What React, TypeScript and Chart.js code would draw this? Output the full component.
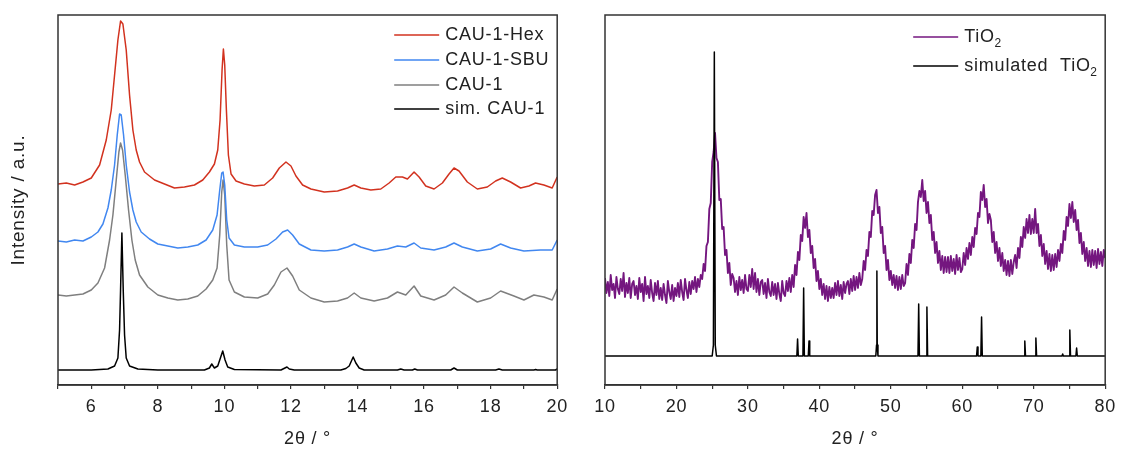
import React, { useEffect, useRef } from 'react';
import { Chart, registerables } from 'chart.js';

Chart.register(...registerables);

const FONT = "'Liberation Sans', Arial, sans-serif";
const TEXT_COLOR = '#222';
const LETTER_SPACING = '0.8px';
const FONT_SIZE = 18;

// ---------- Left panel: CAU-1 patterns (2θ in degrees, intensity in a.u.) ----------
const HEX_X = [5.0, 5.25, 5.5, 5.75, 6.0, 6.25, 6.45, 6.6, 6.7, 6.8, 6.88, 6.95, 7.05, 7.15, 7.25, 7.35, 7.45, 7.6, 7.9, 8.2, 8.5, 8.8, 9.1, 9.35, 9.55, 9.7, 9.8, 9.87, 9.93, 9.97, 10.01, 10.06, 10.12, 10.2, 10.35, 10.6, 10.9, 11.2, 11.45, 11.65, 11.85, 12.0, 12.15, 12.35, 12.6, 13.0, 13.4, 13.7, 13.9, 14.1, 14.4, 14.7, 14.95, 15.15, 15.35, 15.5, 15.7, 15.85, 16.05, 16.3, 16.55, 16.75, 16.9, 17.05, 17.3, 17.6, 17.9, 18.15, 18.35, 18.6, 18.9, 19.15, 19.35, 19.6, 19.85, 20.0];
const HEX_Y = [201, 202, 200, 203, 207, 220, 245, 275, 310, 345, 364, 361, 335, 290, 255, 235, 223, 213, 205, 201, 197, 198, 200, 205, 213, 221, 235, 265, 315, 336, 320, 275, 230, 211, 204, 201, 199, 200, 207, 217, 223, 219, 209, 200, 196, 193, 194, 197, 200, 197, 195, 196, 202, 208, 208, 206, 213, 208, 199, 196, 202, 211, 217, 214, 203, 196, 198, 204, 207, 203, 197, 199, 202, 200, 197, 208];

const SBU_X = [5.0, 5.25, 5.5, 5.75, 6.0, 6.2, 6.35, 6.5, 6.6, 6.7, 6.78, 6.85, 6.9, 6.97, 7.05, 7.15, 7.25, 7.35, 7.5, 7.75, 8.0, 8.3, 8.6, 8.9, 9.2, 9.45, 9.65, 9.78, 9.86, 9.92, 9.96, 10.01, 10.07, 10.14, 10.3, 10.6, 11.0, 11.3, 11.55, 11.75, 11.9, 12.05, 12.25, 12.6, 13.0, 13.4, 13.7, 13.9, 14.1, 14.5, 14.9, 15.2, 15.45, 15.7, 15.9, 16.3, 16.65, 16.9, 17.15, 17.6, 18.0, 18.3, 18.6, 19.0, 19.5, 19.85, 20.0];
const SBU_Y = [144, 143, 145, 144, 148, 153, 161, 177, 195, 220, 250, 271, 270, 250, 220, 193, 175, 163, 153, 146, 141, 139, 137, 138, 140, 145, 155, 170, 195, 212, 213, 200, 165, 147, 140, 138, 138, 140, 146, 153, 155, 150, 141, 135, 134, 135, 138, 141, 138, 134, 136, 139, 138, 142, 137, 135, 138, 142, 138, 134, 136, 141, 137, 134, 135, 135, 145];

const CAU1_X = [5.0, 5.25, 5.5, 5.75, 6.0, 6.2, 6.4, 6.55, 6.65, 6.75, 6.83, 6.88, 6.94, 7.02, 7.12, 7.22, 7.32, 7.45, 7.7, 8.0, 8.3, 8.6, 8.9, 9.2, 9.45, 9.65, 9.78, 9.86, 9.92, 9.96, 10.01, 10.07, 10.14, 10.3, 10.6, 11.0, 11.3, 11.5, 11.7, 11.88, 12.05, 12.25, 12.6, 13.0, 13.4, 13.7, 13.9, 14.1, 14.5, 14.9, 15.2, 15.45, 15.7, 15.9, 16.3, 16.65, 16.9, 17.15, 17.6, 18.0, 18.3, 18.7, 19.0, 19.3, 19.6, 19.85, 20.0];
const CAU1_Y = [90, 89, 90, 91, 95, 102, 117, 145, 170, 205, 233, 242, 235, 210, 175, 145, 125, 110, 98, 90, 87, 85, 86, 89, 96, 105, 117, 150, 193, 205, 190, 140, 105, 93, 88, 87, 91, 100, 113, 117, 109, 95, 87, 83, 84, 87, 92, 87, 84, 87, 93, 90, 99, 89, 85, 90, 98, 92, 83, 87, 94, 89, 85, 90, 88, 85, 96];

const SIM_X = [5.0, 6.0, 6.5, 6.7, 6.8, 6.85, 6.88, 6.92, 6.96, 7.0, 7.05, 7.15, 7.4, 8.0, 9.4, 9.55, 9.62, 9.7, 9.8, 9.88, 9.95, 10.02, 10.1, 10.3, 11.7, 11.82, 11.88, 11.95, 12.1, 13.5, 13.65, 13.75, 13.87, 13.95, 14.05, 14.2, 15.2, 15.3, 15.4, 15.65, 15.72, 15.8, 16.8, 16.9, 17.0, 18.15, 18.25, 18.35, 19.3, 19.35, 19.4, 19.95, 20.0];
const SIM_Y = [15, 15, 16, 19, 27, 55, 95, 152, 95, 50, 27, 19, 16, 15, 15, 17, 21, 17, 19, 27, 34, 25, 18, 15.5, 15, 17, 18, 16, 15, 15, 16.5, 19, 28, 22, 17, 15, 15, 16, 15, 15, 16, 15, 15, 17, 15, 15, 16, 15, 15, 15.5, 15, 15, 16];

const LEFT_LABELS = ['CAU-1-Hex', 'CAU-1-SBU', 'CAU-1', 'sim. CAU-1'];
const LEFT_COLORS = ['#d2321f', '#4187f0', '#7f7f7f', '#000000'];
const LEFT_MAJOR_TICKS = [6, 8, 10, 12, 14, 16, 18, 20];

// ---------- Right panel: TiO2 ----------
const TIO2_START = 10;
const TIO2_STEP = 0.2;
const TIO2_Y = [
  107, 92, 103, 89, 110, 95, 101, 87, 108, 96,
  91, 106, 94, 112, 88, 102, 92, 107, 87, 101,
  104, 90, 99, 86, 107, 93, 101, 84, 108, 91,
  99, 87, 105, 92, 84, 102, 90, 104, 86, 97,
  85, 101, 90, 82, 104, 93, 86, 100, 84, 97,
  89, 102, 88, 105, 93, 85, 106, 95, 87, 103,
  91, 104, 96, 108, 93, 106, 98, 110, 106, 121,
  114, 139, 143, 176, 182, 223, 233, 252, 227, 223,
  185, 186, 156, 158, 130, 135, 112, 122, 100, 111,
  107, 93, 104, 90, 108, 95, 105, 92, 110, 96,
  94, 110, 98, 116, 96, 112, 93, 106, 90, 103,
  105, 91, 102, 87, 106, 93, 89, 103, 90, 101,
  86, 102, 91, 84, 104, 92, 89, 104, 94, 107,
  93, 110, 98, 120, 110, 133, 125, 150, 144, 168,
  157, 172, 148, 155, 132, 139, 117, 126, 104, 114,
  96, 106, 90, 101, 86, 99, 84, 98, 87, 97,
  87, 102, 90, 104, 89, 100, 86, 103, 92, 101,
  104, 91, 106, 94, 109, 95, 108, 97, 112, 100,
  106, 124, 115, 135, 129, 153, 148, 174, 170, 190,
  195, 172, 178, 152, 158, 132, 139, 115, 125, 105,
  114, 100, 110, 97, 109, 95, 108, 96, 110, 99,
  102, 121, 110, 131, 122, 145, 137, 161, 155, 183,
  194, 188, 205, 184, 194, 172, 183, 162, 170, 145,
  153, 132, 143, 122, 134, 115, 129, 112, 128, 113,
  128, 112, 129, 114, 126, 111, 130, 115, 127, 113,
  116, 132, 120, 137, 126, 142, 130, 148, 138, 157,
  151, 172, 168, 193, 185, 200, 178, 186, 162, 171,
  165, 143, 153, 132, 143, 124, 137, 119, 132, 114,
  125, 110, 124, 109, 125, 111, 123, 130, 117, 137,
  127, 148, 138, 158, 147, 166, 152, 170, 151, 166,
  152, 176, 152, 161, 139, 150, 129, 141, 121, 134,
  116, 131, 114, 130, 115, 131, 118, 135, 124, 141,
  132, 154, 145, 168, 159, 181, 167, 183, 163, 175,
  155, 165, 142, 152, 131, 143, 124, 137, 119, 134,
  118, 135, 120, 134, 117, 136, 121, 133, 119, 135, 127,
];

const SIMTIO2_X = [10, 25.0, 25.17, 25.3, 25.43, 25.6, 36.85, 36.95, 37.05, 37.7, 37.8, 37.9, 38.45, 38.55, 38.65, 47.9, 48.0, 48.05, 48.1, 48.2, 53.8, 53.9, 54.0, 54.95, 55.05, 55.15, 62.0, 62.1, 62.2, 62.6, 62.7, 62.8, 68.65, 68.75, 68.85, 70.2, 70.3, 70.4, 73.95, 74.05, 74.15, 74.95, 75.05, 75.15, 75.9, 76.0, 76.1, 80];
const SIMTIO2_Y = [29, 29, 40, 333, 40, 29, 29, 46, 29, 29, 97, 29, 29, 44, 29, 29, 40, 114, 40, 29, 29, 81, 29, 29, 78, 29, 29, 38, 29, 29, 68, 29, 29, 44, 29, 29, 47, 29, 29, 31, 29, 29, 55, 29, 29, 37, 29, 29];

const RIGHT_LABELS = [{ main: 'TiO', sub: '2' }, { main: 'simulated  TiO', sub: '2' }];
const RIGHT_COLORS = ['#74167f', '#000000'];
const RIGHT_MAJOR_TICKS = [10, 20, 30, 40, 50, 60, 70, 80];

// ---------- helpers ----------
function pts(xs: number[], ys: number[]) {
  return xs.map((x, i) => ({ x, y: ys[i] }));
}
function gridPts(start: number, step: number, ys: number[]) {
  return ys.map((y, i) => ({ x: Math.round((start + i * step) * 100) / 100, y }));
}

const spacingPlugin = {
  id: 'spacing',
  beforeUpdate(chart: any) { chart.ctx.letterSpacing = LETTER_SPACING; },
  beforeLayout(chart: any) { chart.ctx.letterSpacing = LETTER_SPACING; },
  beforeDraw(chart: any) { chart.ctx.letterSpacing = LETTER_SPACING; },
};

const framePlugin = {
  id: 'frame',
  afterDraw(chart: any) {
    const { ctx, chartArea: a } = chart;
    ctx.save();
    ctx.strokeStyle = '#333';
    ctx.lineWidth = 1.5;
    ctx.strokeRect(a.left, a.top, a.right - a.left, a.bottom - a.top);
    ctx.restore();
  },
};

function legendPlugin(items: { main: string; sub?: string }[], colors: string[], fromRight: number, rowYs: number[]) {
  return {
    id: 'insideLegend',
    afterDraw(chart: any) {
      const { ctx, chartArea } = chart;
      const x0 = chartArea.right - fromRight;
      ctx.save();
      ctx.letterSpacing = LETTER_SPACING;
      items.forEach((it, i) => {
        const y = rowYs[i];
        ctx.strokeStyle = colors[i];
        ctx.lineWidth = 1.5;
        ctx.beginPath();
        ctx.moveTo(x0, y);
        ctx.lineTo(x0 + 45, y);
        ctx.stroke();
        ctx.fillStyle = TEXT_COLOR;
        ctx.textBaseline = 'middle';
        ctx.textAlign = 'left';
        ctx.font = `${FONT_SIZE}px ${FONT}`;
        const tx = x0 + 51;
        ctx.fillText(it.main, tx, y);
        if (it.sub) {
          const w = ctx.measureText(it.main).width;
          ctx.font = `12px ${FONT}`;
          ctx.fillText(it.sub, tx + w - 0.5, y + 7);
        }
      });
      ctx.restore();
    },
  };
}

function xScale(min: number, max: number, step: number, major: number[]) {
  return {
    type: 'linear',
    min,
    max,
    ticks: {
      stepSize: step,
      autoSkip: false,
      maxRotation: 0,
      padding: 7,
      color: TEXT_COLOR,
      font: { family: FONT, size: FONT_SIZE },
      callback: (v: any) => (major.includes(Number(v)) ? String(v) : ''),
    },
    grid: { display: true, drawOnChartArea: false, drawTicks: true, tickLength: 4, color: '#333', lineWidth: 1.2 },
    border: { display: true, color: '#333', width: 1.5 },
    title: {
      display: true,
      text: '2\u03b8 / \u00b0',
      color: TEXT_COLOR,
      font: { family: FONT, size: FONT_SIZE },
      padding: { top: 0, bottom: 3 },
    },
    afterFit: (s: any) => { s.height = 68; },
  };
}

function lineDs(label: string, data: any[], color: string, width: number) {
  return {
    label,
    data,
    borderColor: color,
    backgroundColor: color,
    borderWidth: width,
    pointRadius: 0,
    fill: false,
    tension: 0,
    borderJoinStyle: 'round',
  };
}

const baseOptions = {
  animation: false,
  responsive: false,
  maintainAspectRatio: false,
  devicePixelRatio: 1,
  events: [],
  plugins: { legend: { display: false }, tooltip: { enabled: false } },
};

export default function App() {
  const leftRef = useRef<HTMLCanvasElement>(null);
  const rightRef = useRef<HTMLCanvasElement>(null);

  useEffect(() => {
    const left = new Chart(leftRef.current as HTMLCanvasElement, {
      type: 'line',
      data: {
        datasets: [
          lineDs(LEFT_LABELS[0], pts(HEX_X, HEX_Y), LEFT_COLORS[0], 1.5),
          lineDs(LEFT_LABELS[1], pts(SBU_X, SBU_Y), LEFT_COLORS[1], 1.5),
          lineDs(LEFT_LABELS[2], pts(CAU1_X, CAU1_Y), LEFT_COLORS[2], 1.5),
          lineDs(LEFT_LABELS[3], pts(SIM_X, SIM_Y), LEFT_COLORS[3], 1.5),
        ] as any,
      },
      options: {
        ...baseOptions,
        layout: { padding: { left: 0, right: 14, top: 15, bottom: 0 } },
        scales: {
          x: xScale(5, 20, 1, LEFT_MAJOR_TICKS),
          y: {
            type: 'linear',
            min: 0,
            max: 370,
            ticks: { display: false },
            grid: { display: false },
            border: { display: false },
            title: {
              display: true,
              text: 'Intensity / a.u.',
              color: TEXT_COLOR,
              font: { family: FONT, size: 19 },
              padding: { top: 7, bottom: 0 },
            },
            afterFit: (s: any) => { s.width = 58; },
          },
        },
      } as any,
      plugins: [spacingPlugin, framePlugin, legendPlugin(LEFT_LABELS.map((m) => ({ main: m })), LEFT_COLORS, 163, [35, 60, 85, 109])] as any,
    });

    const right = new Chart(rightRef.current as HTMLCanvasElement, {
      type: 'line',
      data: {
        datasets: [
          lineDs('simulated TiO2', pts(SIMTIO2_X, SIMTIO2_Y), RIGHT_COLORS[1], 1.5),
          lineDs('TiO2', gridPts(TIO2_START, TIO2_STEP, TIO2_Y), RIGHT_COLORS[0], 1.9),
        ] as any,
      },
      options: {
        ...baseOptions,
        layout: { padding: { left: 30, right: 16, top: 15, bottom: 0 } },
        scales: {
          x: xScale(10, 80, 5, RIGHT_MAJOR_TICKS),
          y: { type: 'linear', min: 0, max: 370, display: false },
        },
      } as any,
      plugins: [spacingPlugin, framePlugin, legendPlugin(RIGHT_LABELS, RIGHT_COLORS, 192, [37, 66])] as any,
    });

    return () => {
      left.destroy();
      right.destroy();
    };
  }, []);

  return (
    <div style={{ position: 'absolute', left: 0, top: 0, width: 1123, height: 453, background: '#fff' }}>
      <canvas ref={leftRef} width={575} height={453} style={{ position: 'absolute', left: 0, top: 0 }} />
      <canvas ref={rightRef} width={548} height={453} style={{ position: 'absolute', left: 575, top: 0 }} />
    </div>
  );
}
